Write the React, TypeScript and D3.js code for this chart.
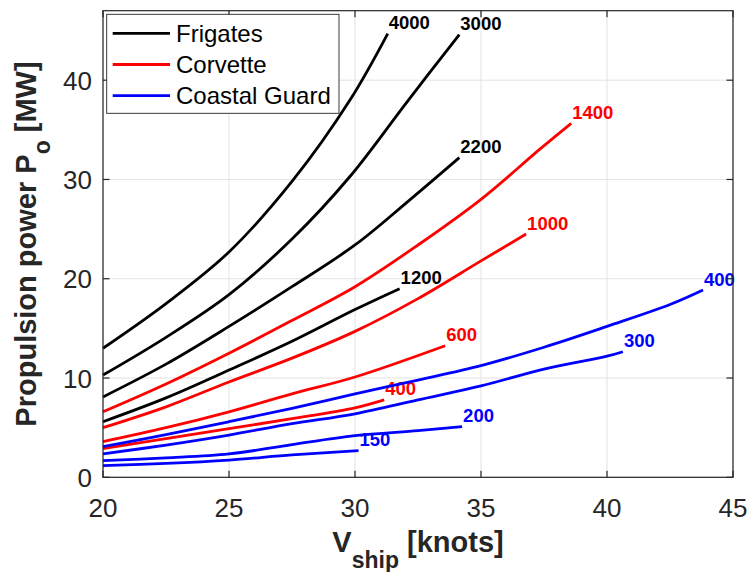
import React, { useRef, useEffect } from 'react';
import * as d3 from 'd3';

// speeds [knots] and propulsion power [MW], one pair per displacement curve
const vFrig4000 = [20, 22.5, 25, 27.5, 29.8, 31.3];
const pFrig4000 = [13.0, 17.5, 22.7, 29.8, 38.0, 44.7];
const vFrig3000 = [20, 22.5, 25, 27.5, 29.8, 32.06, 34.14];
const pFrig3000 = [10.3, 14.1, 18.4, 24.0, 30.3, 37.8, 44.6];
const vFrig2200 = [20, 22.5, 25, 27.5, 30, 32.06, 34.14];
const pFrig2200 = [8.1, 11.4, 15.2, 19.2, 23.4, 27.7, 32.2];
const vFrig1200 = [20, 22.5, 25, 27.5, 30, 31.77];
const pFrig1200 = [5.6, 8.0, 10.8, 13.7, 16.9, 19.0];

const vCorv1400 = [20, 22.5, 25, 27.5, 30, 32.5, 35, 37.36, 38.58];
const pCorv1400 = [6.6, 9.4, 12.5, 15.8, 19.2, 23.4, 28.0, 33.1, 35.65];
const vCorv1000 = [20, 22.5, 25, 27.5, 30, 32.5, 35, 36.79];
const pCorv1000 = [5.0, 7.1, 9.6, 12.0, 14.7, 18.0, 21.8, 24.5];
const vCorv600 = [20, 22.5, 25, 27.5, 30, 33.58];
const pCorv600 = [3.6, 5.0, 6.6, 8.4, 10.1, 13.25];
const vCorv400 = [20, 22.5, 25, 27.5, 30, 31.16];
const pCorv400 = [2.9, 3.9, 4.9, 5.9, 7.0, 7.8];

const vCoast400 = [20, 22.5, 25, 27.5, 30, 32.5, 35, 37.5, 40, 42.5, 43.81];
const pCoast400 = [3.1, 4.3, 5.6, 6.95, 8.4, 9.8, 11.25, 13.1, 15.2, 17.4, 18.86];
const vCoast300 = [20, 22.5, 25, 27.5, 30, 32.5, 35, 37.5, 40, 40.63];
const pCoast300 = [2.35, 3.25, 4.26, 5.4, 6.4, 7.8, 9.2, 10.9, 12.2, 12.65];
const vCoast200 = [20, 22.5, 25, 27.5, 30, 32.5, 34.25];
const pCoast200 = [1.67, 1.95, 2.35, 3.3, 4.2, 4.7, 5.1];
const vCoast150 = [20, 22.5, 25, 27.5, 30.14];
const pCoast150 = [1.17, 1.4, 1.74, 2.25, 2.68];

const legendNames = ['Frigates', 'Corvette', 'Coastal Guard'];
const legendColors = ['#000000', '#ff0000', '#0000ff'];

const xTicks = [20, 25, 30, 35, 40, 45];
const yTicks = [0, 10, 20, 30, 40];

const curves = [
  { label: '4000', group: 0, v: vFrig4000, p: pFrig4000 },
  { label: '3000', group: 0, v: vFrig3000, p: pFrig3000 },
  { label: '2200', group: 0, v: vFrig2200, p: pFrig2200 },
  { label: '1200', group: 0, v: vFrig1200, p: pFrig1200 },
  { label: '1400', group: 1, v: vCorv1400, p: pCorv1400 },
  { label: '1000', group: 1, v: vCorv1000, p: pCorv1000 },
  { label: '600', group: 1, v: vCorv600, p: pCorv600 },
  { label: '400', group: 1, v: vCorv400, p: pCorv400 },
  { label: '400', group: 2, v: vCoast400, p: pCoast400 },
  { label: '300', group: 2, v: vCoast300, p: pCoast300 },
  { label: '200', group: 2, v: vCoast200, p: pCoast200 },
  { label: '150', group: 2, v: vCoast150, p: pCoast150 },
];

const App = () => {
  const svgRef = useRef(null);

  useEffect(() => {
    const svg = d3.select(svgRef.current);
    svg.selectAll('*').remove();

    const font = '"Liberation Sans", Arial, Helvetica, sans-serif';
    const axisColor = '#262626';
    const left = 103, right = 733, top = 10.7, bottom = 477.3;

    const x = d3.scaleLinear().domain([20, 45]).range([left, right]);
    const y = d3.scaleLinear().domain([0, 47]).range([bottom, top]);

    // grid
    svg.append('g')
      .selectAll('line')
      .data(xTicks)
      .join('line')
      .attr('x1', d => x(d)).attr('x2', d => x(d))
      .attr('y1', top).attr('y2', bottom)
      .attr('stroke', '#e3e3e3').attr('stroke-width', 1);
    svg.append('g')
      .selectAll('line')
      .data(yTicks)
      .join('line')
      .attr('x1', left).attr('x2', right)
      .attr('y1', d => y(d)).attr('y2', d => y(d))
      .attr('stroke', '#e3e3e3').attr('stroke-width', 1);

    // curves
    const line = d3.line<number>()
      .x(d => x(d[0]))
      .y(d => y(d[1]))
      .curve(d3.curveCatmullRom.alpha(0.5));

    const plot = svg.append('g');
    curves.forEach(c => {
      const pts = c.v.map((v, i) => [v, c.p[i]]);
      plot.append('path')
        .attr('d', line(pts))
        .attr('fill', 'none')
        .attr('stroke', legendColors[c.group])
        .attr('stroke-width', 2.8)
        .attr('stroke-linejoin', 'round');
      const last = pts[pts.length - 1];
      plot.append('text')
        .attr('x', x(last[0]) + 1)
        .attr('y', y(last[1]) - 4.5)
        .attr('font-family', font)
        .attr('font-weight', 'bold')
        .attr('font-size', 18.5)
        .attr('fill', legendColors[c.group])
        .text(c.label);
    });

    // axes box + inward ticks
    svg.append('rect')
      .attr('x', left).attr('y', top)
      .attr('width', right - left).attr('height', bottom - top)
      .attr('fill', 'none').attr('stroke', axisColor).attr('stroke-width', 1.2);

    const tickLen = 6.5;
    const ticks = svg.append('g').attr('stroke', axisColor).attr('stroke-width', 1.2);
    xTicks.forEach(t => {
      ticks.append('line').attr('x1', x(t)).attr('x2', x(t)).attr('y1', bottom).attr('y2', bottom - tickLen);
      ticks.append('line').attr('x1', x(t)).attr('x2', x(t)).attr('y1', top).attr('y2', top + tickLen);
    });
    yTicks.forEach(t => {
      ticks.append('line').attr('x1', left).attr('x2', left + tickLen).attr('y1', y(t)).attr('y2', y(t));
      ticks.append('line').attr('x1', right).attr('x2', right - tickLen).attr('y1', y(t)).attr('y2', y(t));
    });

    svg.append('g')
      .selectAll('text')
      .data(xTicks)
      .join('text')
      .attr('x', d => x(d))
      .attr('y', 517)
      .attr('text-anchor', 'middle')
      .attr('font-family', font)
      .attr('font-size', 26)
      .attr('fill', axisColor)
      .text(d => d);

    svg.append('g')
      .selectAll('text')
      .data(yTicks)
      .join('text')
      .attr('x', 92)
      .attr('y', d => y(d) + 9.5)
      .attr('text-anchor', 'end')
      .attr('font-family', font)
      .attr('font-size', 26)
      .attr('fill', axisColor)
      .text(d => d);

    // axis labels
    const xl = svg.append('text')
      .attr('x', (left + right) / 2)
      .attr('y', 552)
      .attr('text-anchor', 'middle')
      .attr('font-family', font)
      .attr('font-weight', 'bold')
      .attr('font-size', 29)
      .attr('fill', axisColor);
    xl.append('tspan').text('V');
    xl.append('tspan').attr('dy', 16).attr('font-size', 23).text('ship');
    xl.append('tspan').attr('dy', -16).text(' [knots]');

    const yl = svg.append('text')
      .attr('transform', `translate(36, ${(top + bottom) / 2}) rotate(-90)`)
      .attr('text-anchor', 'middle')
      .attr('font-family', font)
      .attr('font-weight', 'bold')
      .attr('font-size', 29)
      .attr('fill', axisColor);
    yl.append('tspan').text('Propulsion power P');
    yl.append('tspan').attr('dy', 14).attr('font-size', 23).text('o');
    yl.append('tspan').attr('dy', -14).text(' [MW]');

    // legend
    const lg = svg.append('g');
    lg.append('rect')
      .attr('x', 106.7).attr('y', 14.3)
      .attr('width', 232.3).attr('height', 99)
      .attr('fill', 'white').attr('stroke', axisColor).attr('stroke-width', 0.9);
    legendNames.forEach((name, i) => {
      const ly = 33.3 + i * 31.2;
      lg.append('line')
        .attr('x1', 112.7).attr('x2', 170)
        .attr('y1', ly).attr('y2', ly)
        .attr('stroke', legendColors[i]).attr('stroke-width', 2.8);
      lg.append('text')
        .attr('x', 176)
        .attr('y', ly + 8.5)
        .attr('font-family', font)
        .attr('font-size', 24)
        .attr('fill', '#000')
        .text(name);
    });
  }, []);

  return (
    <svg ref={svgRef} width={750} height={572}
      style={{ position: 'absolute', left: 0, top: 0, background: 'white' }} />
  );
};

export default App;
